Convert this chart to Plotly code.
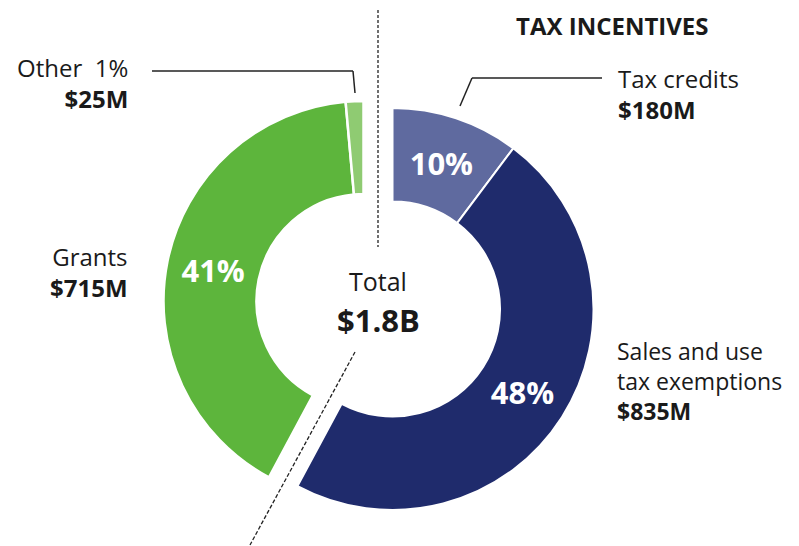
import plotly.graph_objects as go

W, H = 799, 546
OFF = 8  # page body margin in the browser

# ---- data ----
categories = ["Tax credits", "Sales and use tax exemptions", "Grants", "Other"]
values_musd = [180, 835, 715, 25]
pct_labels = ["10%", "48%", "41%", "1%"]
value_labels = ["$180M", "$835M", "$715M", "$25M"]
total_label = "$1.8B"
group_title = "TAX INCENTIVES"

colors = ["#5f6a9f", "#1f2b6c", "#5db53c", "#8fcb72"]
CLEAR = "rgba(0,0,0,0)"

tax_sum = values_musd[0] + values_musd[1]
other_sum = values_musd[2] + values_musd[3]

def px(x, y):
    return (x - OFF) / W, 1 - (y - OFF) / H

def domain(cx, cy, r):
    cx -= OFF
    cy -= OFF
    return dict(x=[(cx - r) / W, (cx + r) / W], y=[(H - cy - r) / H, (H - cy + r) / H])

FONT = "Open Sans"
fig = go.Figure()

# Tax incentives group (shifted right)
fig.add_trace(go.Pie(
    values=[values_musd[0], values_musd[1], other_sum],
    labels=[categories[0], categories[1], "rest"],
    text=[pct_labels[0], pct_labels[1], ""],
    textinfo="text",
    textposition="inside",
    insidetextorientation="horizontal",
    textfont=dict(family=FONT, size=31, color="white", weight="bold"),
    sort=False, direction="clockwise", rotation=0,
    hole=0.535,
    marker=dict(colors=[colors[0], colors[1], CLEAR],
                line=dict(color=["white", "white", CLEAR], width=[2, 2, 0])),
    domain=domain(392.5, 309, 201),
    hoverinfo="skip",
))

# Grants / other group (shifted left)
fig.add_trace(go.Pie(
    values=[tax_sum, values_musd[2], values_musd[3]],
    labels=["rest", categories[2], categories[3]],
    text=["", pct_labels[2], ""],
    textinfo="text",
    textposition="inside",
    insidetextorientation="horizontal",
    textfont=dict(family=FONT, size=31, color="white", weight="bold"),
    sort=False, direction="clockwise", rotation=0,
    hole=0.535,
    marker=dict(colors=[CLEAR, colors[2], colors[3]],
                line=dict(color=[CLEAR, "white", "white"], width=[0, 2.5, 2.5])),
    domain=domain(363.5, 301, 200),
    hoverinfo="skip",
))

shapes = []
def line(p0, p1, dash="solid", width=1.5, color="#222"):
    x0, y0 = px(*p0)
    x1, y1 = px(*p1)
    shapes.append(dict(type="line", xref="paper", yref="paper", x0=x0, y0=y0, x1=x1, y1=y1,
                       line=dict(color=color, width=width, dash=dash)))

# dashed separators
line((378, 10), (378, 247), dash="3px,2px", width=1.3)
line((355, 352), (250, 545), dash="4px,2px", width=1.3)
# leader lines
line((152, 71), (353, 71))
line((353, 71), (355, 93))
line((602, 78), (472, 78))
line((472, 78), (460, 106))

annotations = []
def text(s, x, y, xanchor, size=24, align=None):
    ax, ay = px(x, y)
    annotations.append(dict(text=s, x=ax, y=ay, xref="paper", yref="paper",
                            xanchor=xanchor, yanchor="middle", showarrow=False, borderpad=0,
                            align=align or xanchor,
                            font=dict(family=FONT, size=size, color="#1a1a1a")))

text(f"<b>{group_title}</b>", 612, 25, "center", size=24)
text(f"{categories[0]}<br><b>{value_labels[0]}</b>", 617, 94, "left", size=24)
text(f"Sales and use<br>tax exemptions<br><b>{value_labels[1]}</b>", 616, 381, "left", size=23)
text(f"{categories[3]}\u00a0\u00a0{pct_labels[3]}<br><b>{value_labels[3]}</b>", 129, 83, "right", size=24)
text(f"{categories[2]}<br><b>{value_labels[2]}</b>", 129, 272, "right", size=24)
text("Total", 378, 281, "center", size=25)
text(f"<b>{total_label}</b>", 378, 320, "center", size=31)

fig.update_layout(
    width=W, height=H,
    margin=dict(l=0, r=0, t=0, b=0),
    paper_bgcolor="white", plot_bgcolor="white",
    showlegend=False,
    shapes=shapes, annotations=annotations,
)

fig.write_html("out.html")
